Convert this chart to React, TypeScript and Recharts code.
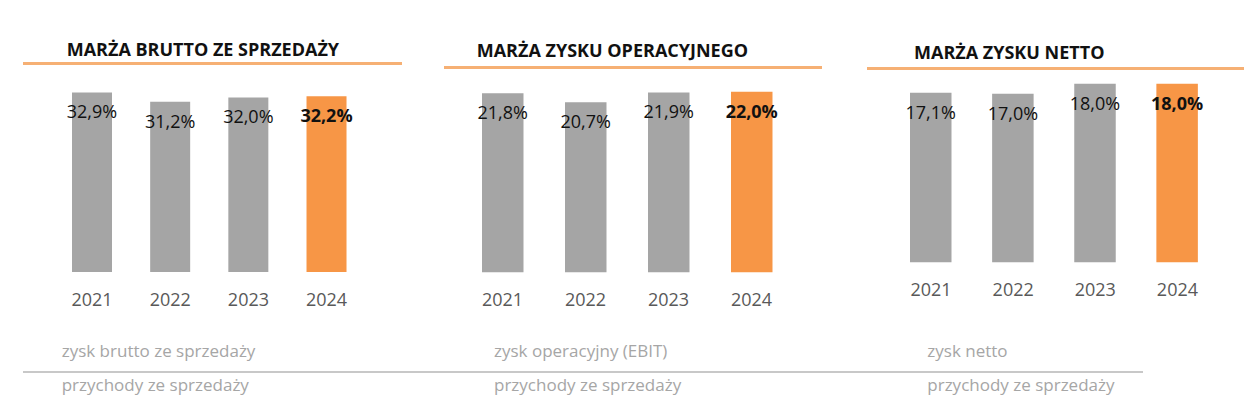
import React from 'react';
import { BarChart, Bar, XAxis, YAxis, Cell, LabelList } from 'recharts';

const years = ['2021', '2022', '2023', '2024'];
const grossMargin = [32.9, 31.2, 32.0, 32.2];
const operatingMargin = [21.8, 20.7, 21.9, 22.0];
const netMargin = [17.1, 17.0, 18.0, 18.0];

const titles = ['MARŻA BRUTTO ZE SPRZEDAŻY', 'MARŻA ZYSKU OPERACYJNEGO', 'MARŻA ZYSKU NETTO'];
const numerators = ['zysk brutto ze sprzedaży', 'zysk operacyjny (EBIT)', 'zysk netto'];
const denominator = 'przychody ze sprzedaży';

const GRAY = '#A5A5A5';
const ORANGE = '#F79646';
const FONT = '"Open Sans", sans-serif';

const toRows = (values: number[]) => years.map((year, i) => ({ year, value: values[i] }));

// layout of each panel (plot box, scale and decorations)
const panels = [
  {
    values: grossMargin, max: 35, left: 52.6, width: 312.7, base: 272, height: 191.1, barSize: 40,
    title: { x: 66.7, y: 49 }, rule: { x1: 22.7, x2: 401.7, y: 63.3 }, tickMargin: 15, textX: 61.7,
  },
  {
    values: operatingMargin, max: 25, left: 460.7, width: 332, base: 272.3, height: 205.3, barSize: 41.5,
    title: { x: 476.7, y: 49.7 }, rule: { x1: 444, x2: 821.7, y: 67.3 }, tickMargin: 15, textX: 494,
  },
  {
    values: netMargin, max: 20, left: 889.8, width: 328.5, base: 261.7, height: 198.2, barSize: 41.5,
    title: { x: 914, y: 51.7 }, rule: { x1: 866.7, x2: 1244, y: 68.3 }, tickMargin: 15, textX: 927.3,
  },
];

const fmt = (v: number) => `${v.toFixed(1).replace('.', ',')}%`;

const ValueLabel = (props: any) => {
  const { x, y, width, value, index } = props;
  return (
    <text
      x={x + width / 2}
      y={y + 26}
      textAnchor="middle"
      fontFamily={FONT}
      fontSize={18}
      fontWeight={index === 3 ? 700 : 400}
      fill="#111"
    >
      {fmt(value)}
    </text>
  );
};

const Panel = ({ p, i }: { p: typeof panels[number]; i: number }) => {
  const axisH = 50;
  return (
    <>
      <div
        style={{
          position: 'absolute', left: p.title.x, top: p.title.y - 12, lineHeight: '24px',
          fontFamily: FONT, fontWeight: 700, fontSize: 18, color: '#111', whiteSpace: 'nowrap',
        }}
      >
        {titles[i]}
      </div>
      <div
        style={{
          position: 'absolute', left: p.rule.x1, top: p.rule.y - 1.5, width: p.rule.x2 - p.rule.x1,
          height: 3, background: '#F6B074',
        }}
      />
      <div style={{ position: 'absolute', left: p.left, top: p.base - p.height }}>
        <BarChart
          width={p.width}
          height={p.height + axisH}
          data={toRows(p.values)}
          margin={{ top: 0, right: 0, bottom: 0, left: 0 }}
        >
          <XAxis
            dataKey="year"
            height={axisH}
            axisLine={false}
            tickLine={false}
            tickMargin={p.tickMargin}
            tick={{ fontFamily: FONT, fontSize: 18, fill: '#595959' }}
            interval={0}
          />
          <YAxis hide domain={[0, p.max]} />
          <Bar dataKey="value" barSize={p.barSize} isAnimationActive={false}>
            {p.values.map((_, k) => (
              <Cell key={k} fill={k === 3 ? ORANGE : GRAY} />
            ))}
            <LabelList dataKey="value" content={<ValueLabel />} />
          </Bar>
        </BarChart>
      </div>
      <div
        style={{
          position: 'absolute', left: p.textX, top: 339, lineHeight: '24px',
          fontFamily: FONT, fontSize: 17, color: '#A6A6A6', whiteSpace: 'nowrap',
        }}
      >
        {numerators[i]}
      </div>
      <div
        style={{
          position: 'absolute', left: p.textX, top: 373, lineHeight: '24px',
          fontFamily: FONT, fontSize: 17, color: '#A6A6A6', whiteSpace: 'nowrap',
        }}
      >
        {denominator}
      </div>
    </>
  );
};

export default function App() {
  return (
    <div
      style={{
        position: 'absolute', left: 0, top: 0, width: 1252, height: 396,
        background: '#fff', overflow: 'hidden',
      }}
    >
      {panels.map((p, i) => (
        <Panel key={i} p={p} i={i} />
      ))}
      <div style={{ position: 'absolute', left: 22.7, top: 371, width: 1120, height: 2, background: '#C8C8C8' }} />
    </div>
  );
}
